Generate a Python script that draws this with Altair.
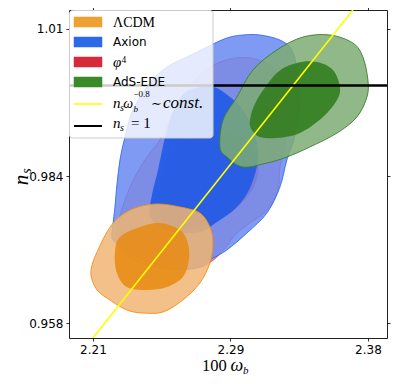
import altair as alt
import pandas as pd

# ---------------- axes ----------------
x_domain = [2.1952, 2.3918]
y_domain = [0.95535, 1.01336]
x_ticks = [2.21, 2.295, 2.38]
x_tick_labels = ["2.21", "2.29", "2.38"]
y_ticks = [0.958, 0.984, 1.01]

# ---------------- contours (100*omega_b, n_s) ----------------
phi4_outer_x = [2.2255, 2.2255, 2.2329, 2.2421, 2.2514, 2.2607, 2.2731, 2.2885, 2.3071, 2.3225, 2.3305,
                2.3287, 2.3256, 2.3244, 2.3176, 2.3071, 2.2990, 2.2916, 2.2836, 2.2731, 2.2514, 2.2329]
phi4_outer_y = [0.97268, 0.97569, 0.98205, 0.98683, 0.99037, 0.99567, 1.00098, 1.00416, 1.00487, 1.00275, 0.99744,
                0.99037, 0.98559, 0.98152, 0.97799, 0.97569, 0.97392, 0.97127, 0.96897, 0.96773, 0.96773, 0.96950]
phi4_inner_x = [2.2527, 2.2514, 2.2551, 2.2625, 2.2761, 2.2916, 2.3040, 2.3120, 2.3101, 2.3009, 2.2885, 2.2731, 2.2588]
phi4_inner_y = [0.97657, 0.98152, 0.98630, 0.98913, 0.99090, 0.99160, 0.99037, 0.98683, 0.98241, 0.97887, 0.97622, 0.97480, 0.97516]

axion_outer_x = [2.2224, 2.2224, 2.2236, 2.2248, 2.2267, 2.2298, 2.2347, 2.2452, 2.2557, 2.2681, 2.2805, 2.2928,
                 2.3027, 2.3132, 2.3256, 2.3330, 2.3361, 2.3380, 2.3349, 2.3299, 2.3256, 2.3176, 2.3052, 2.2928,
                 2.2823, 2.2761, 2.2607, 2.2452, 2.2329]
axion_outer_y = [0.97268, 0.97533, 0.97852, 0.98241, 0.98683, 0.99090, 0.99567, 1.00045, 1.00328, 1.00505, 1.00682, 1.00841,
                 1.00894, 1.00894, 1.00805, 1.00629, 1.00275, 0.99744, 0.99125, 0.98683, 0.98205, 0.97746, 0.97392, 0.97091,
                 0.96914, 0.96790, 0.96737, 0.96879, 0.97056]
axion_inner_x = [2.2452, 2.2465, 2.2502, 2.2557, 2.2619, 2.2700, 2.2842, 2.2947, 2.3027, 2.3101, 2.3120, 2.3071,
                 2.2990, 2.2867, 2.2761, 2.2607, 2.2514]
axion_inner_y = [0.97710, 0.98064, 0.98506, 0.99214, 0.99691, 0.99921, 0.99974, 0.99797, 0.99567, 0.99125, 0.98683, 0.98188,
                 0.97852, 0.97586, 0.97410, 0.97410, 0.97498]

lcdm_outer_x = [2.2088, 2.2100, 2.2137, 2.2187, 2.2255, 2.2360, 2.2496, 2.2638, 2.2761, 2.2823, 2.2842, 2.2823,
                2.2761, 2.2656, 2.2533, 2.2409, 2.2310, 2.2205, 2.2125]
lcdm_outer_y = [0.96649, 0.96879, 0.97127, 0.97410, 0.97657, 0.97834, 0.97905, 0.97852, 0.97746, 0.97498, 0.97215, 0.96861,
                0.96507, 0.96207, 0.95995, 0.95977, 0.96030, 0.96207, 0.96384]
lcdm_inner_x = [2.2236, 2.2267, 2.2391, 2.2514, 2.2638, 2.2687, 2.2693, 2.2656, 2.2557, 2.2434, 2.2310, 2.2248]
lcdm_inner_y = [0.97038, 0.97321, 0.97498, 0.97569, 0.97445, 0.97215, 0.96914, 0.96614, 0.96437, 0.96384, 0.96437, 0.96684]

ads_outer_x = [2.2885, 2.2904, 2.2990, 2.3089, 2.3237, 2.3398, 2.3565, 2.3707, 2.3769, 2.3800, 2.3794, 2.3732,
               2.3609, 2.3441, 2.3299, 2.3176, 2.3027, 2.2928]
ads_outer_y = [0.98913, 0.99390, 0.99797, 1.00275, 1.00629, 1.00858, 1.00894, 1.00752, 1.00505, 1.00098, 0.99797, 0.99444,
               0.99160, 0.98913, 0.98736, 0.98630, 0.98559, 0.98736]
ads_inner_x = [2.3071, 2.3114, 2.3237, 2.3361, 2.3485, 2.3584, 2.3627, 2.3609, 2.3522, 2.3380, 2.3237, 2.3132, 2.3083]
ads_inner_y = [0.99390, 0.99744, 1.00222, 1.00399, 1.00416, 1.00275, 0.99974, 0.99744, 0.99444, 0.99160, 0.99072, 0.99090, 0.99214]

# guide lines
scaling_line_x = [2.2100, 2.3707]
scaling_line_y = [0.95535, 1.01336]
ns_one = [1.0]

legend_patch_labels = ["ΛCDM", "Axion", "φ", "AdS-EDE"]
legend_patch_colors = ["#f0a030", "#2a6ae8", "#d62a3a", "#3a8a28"]

W, H = 318, 328

xs = alt.Scale(domain=x_domain, nice=False, zero=False)
ys = alt.Scale(domain=y_domain, nice=False, zero=False)

ax_common = dict(tickSize=3, tickColor="black", tickWidth=0.8, domain=False, grid=False,
                 labelFont="DejaVu Sans", labelFontSize=12, labelColor="black")
x_axis = alt.Axis(values=x_ticks, labelPadding=3,
                  labelExpr="datum.value < 2.25 ? '2.21' : (datum.value < 2.33 ? '2.29' : '2.38')", **ax_common)
y_axis = alt.Axis(values=y_ticks, labelPadding=3, format=".3~f", **ax_common)
x_axis_top = alt.Axis(values=x_ticks, orient="top", labels=False, **ax_common)
y_axis_right = alt.Axis(values=y_ticks, orient="right", labels=False, **ax_common)


def contour(cx, cy, fill, op, stroke, sw, sop):
    df = pd.DataFrame({"omega_b": cx, "n_s": cy, "i": list(range(len(cx)))})
    return alt.Chart(df).mark_line(
        fill=fill, fillOpacity=op, stroke=stroke, strokeWidth=sw, strokeOpacity=sop,
        interpolate="cardinal-closed", clip=True
    ).encode(
        x=alt.X("omega_b:Q", scale=xs, axis=x_axis, title=None),
        y=alt.Y("n_s:Q", scale=ys, axis=y_axis, title=None),
        order=alt.Order("i:Q"),
    )


contours = alt.layer(
    contour(phi4_outer_x, phi4_outer_y, "#eb9196", 0.85, "#d62a3a", 0.8, 1),
    contour(phi4_inner_x, phi4_inner_y, "#d62a3a", 0.85, "#d62a3a", 0.5, 0),
    contour(axion_outer_x, axion_outer_y, "#6888f0", 0.85, "#2563eb", 0.8, 1),
    contour(axion_inner_x, axion_inner_y, "#1f5ae6", 0.9, "#1f5ae6", 0.5, 0),
    contour(lcdm_outer_x, lcdm_outer_y, "#f0b573", 0.85, "#f0901a", 0.9, 1),
    contour(lcdm_inner_x, lcdm_inner_y, "#e88a10", 0.85, "#e88a10", 0.5, 0),
    contour(ads_outer_x, ads_outer_y, "#7dac73", 0.85, "#3a8028", 0.9, 1),
    contour(ads_inner_x, ads_inner_y, "#2e7a1a", 0.85, "#2e7a1a", 0.5, 0),
)

yellow = alt.Chart(pd.DataFrame({"omega_b": scaling_line_x, "n_s": scaling_line_y})).mark_line(
    color="#ffff00", strokeWidth=1.6, clip=True
).encode(
    x=alt.X("omega_b:Q", scale=xs, axis=x_axis_top, title=None),
    y=alt.Y("n_s:Q", scale=ys, axis=y_axis_right, title=None),
)

black = alt.Chart(pd.DataFrame({"n_s": ns_one})).mark_rule(color="black", strokeWidth=2.5).encode(
    y=alt.Y("n_s:Q", scale=ys, axis=None)
)

one = pd.DataFrame({"k": [0]})
OX, OY = 69, 10  # plot origin on page


def txt(s, x, y, size, font="Liberation Serif", style="normal", baseline="alphabetic", angle=0, align="left"):
    return alt.Chart(one).mark_text(
        text=s, font=font, fontSize=size, fontStyle=style, align=align, baseline=baseline,
        angle=angle, color="black"
    ).encode(x=alt.value(x - OX), y=alt.value(y - OY))


legend_layers = [
    alt.Chart(one).mark_rect(fill="white", fillOpacity=0.8, stroke="#cccccc", strokeWidth=1, cornerRadius=3).encode(
        x=alt.value(0.5), x2=alt.value(144), y=alt.value(0.5), y2=alt.value(128))
]
row_centers = [22, 42, 62, 82]
for lab, col, cy in zip(legend_patch_labels, legend_patch_colors, row_centers):
    legend_layers.append(
        alt.Chart(one).mark_rect(fill=col, stroke=col, strokeOpacity=0.5, strokeWidth=1).encode(
            x=alt.value(74 - OX), x2=alt.value(102 - OX), y=alt.value(cy - 5 - OY), y2=alt.value(cy + 5 - OY))
    )
legend_layers += [
    txt(legend_patch_labels[0], 113, 27, 14),
    txt(legend_patch_labels[1], 113, 42, 12, font="DejaVu Sans", baseline="middle"),
    txt(legend_patch_labels[2], 113, 67, 15, style="italic"),
    txt("4", 121.5, 63, 9.5),
    txt(legend_patch_labels[3], 113, 82, 12, font="DejaVu Sans", baseline="middle"),
]
# line entries
legend_layers += [
    alt.Chart(one).mark_rule(color="#ffff00", strokeWidth=1.6).encode(
        x=alt.value(74 - OX), x2=alt.value(102 - OX), y=alt.value(104 - OY)),
    alt.Chart(one).mark_rule(color="black", strokeWidth=2).encode(
        x=alt.value(74 - OX), x2=alt.value(102 - OX), y=alt.value(126 - OY)),
    txt("n", 113, 108, 15, style="italic"),
    txt("s", 120, 111, 10, style="italic"),
    txt("ω", 123.2, 108, 14, style="italic"),
    txt("b", 133.5, 112, 9, style="italic"),
    txt("−0.8", 133.5, 97, 9),
    txt("∼", 151, 108, 13, font="DejaVu Serif"),
    txt("const.", 163, 108, 17, style="italic"),
    txt("n", 113, 128, 15, style="italic"),
    txt("s", 120, 131, 10, style="italic"),
    txt("= 1", 131, 128, 15),
]

# axis titles
titles = [
    txt("100", 202, 371, 16.5),
    txt("ω", 230.5, 371, 18, style="italic"),
    txt("b", 243, 374, 11, style="italic"),
    txt("n", 22, 180, 21, style="italic", baseline="middle", angle=270, align="center"),
    txt("s", 27, 171, 14, style="italic", baseline="middle", angle=270, align="center"),
]

chart = alt.layer(contours, yellow, black, *legend_layers, *titles).resolve_axis(
    x="independent", y="independent"
).properties(
    width=W, height=H, autosize=alt.AutoSizeParams(type="none"),
    padding={"left": 61, "top": 2, "right": 4, "bottom": 38},
).configure_view(stroke="#222222", strokeWidth=1)

chart.save("out.html", embed_options={"renderer": "svg", "actions": False})
